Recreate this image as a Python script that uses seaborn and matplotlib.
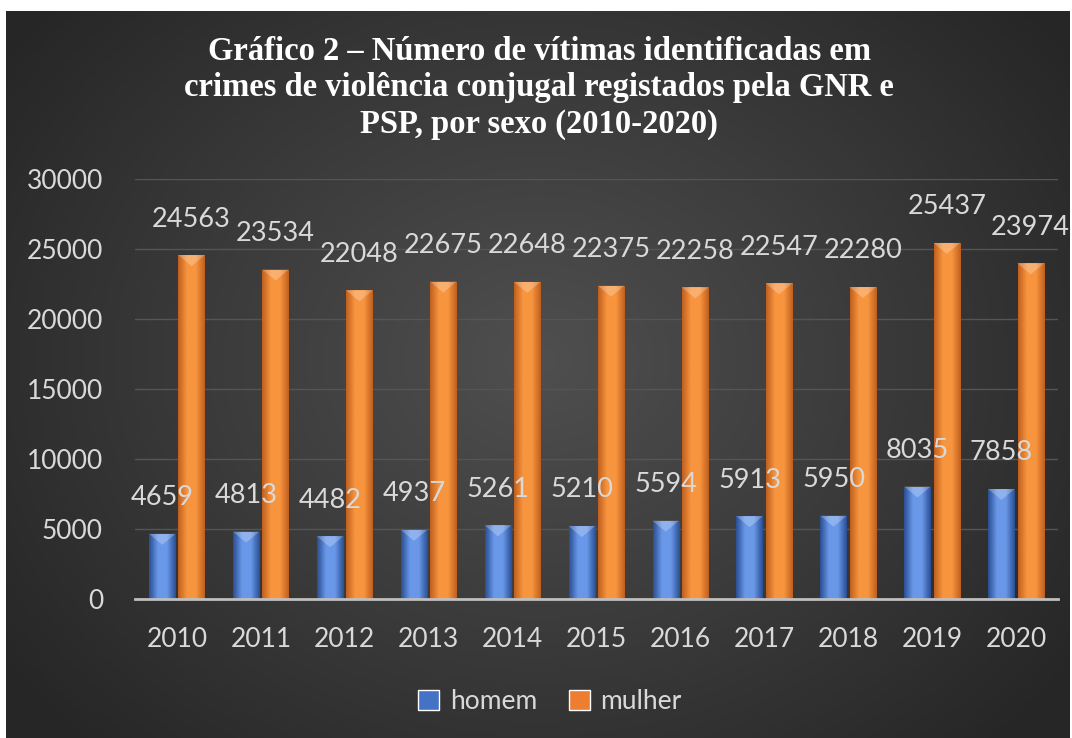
import numpy as np
import pandas as pd
import matplotlib.pyplot as plt
import matplotlib.colors as mcolors
from matplotlib.patches import Polygon
import seaborn as sns

# Dados
anos = ['2010', '2011', '2012', '2013', '2014', '2015', '2016', '2017', '2018', '2019', '2020']
homem = [4659, 4813, 4482, 4937, 5261, 5210, 5594, 5913, 5950, 8035, 7858]
mulher = [24563, 23534, 22048, 22675, 22648, 22375, 22258, 22547, 22280, 25437, 23974]
sexos = ['homem', 'mulher']
titulo = ('Gráfico 2 – Número de vítimas identificadas em\n'
          'crimes de violência conjugal registados pela GNR e\n'
          'PSP, por sexo (2010-2020)')

df = pd.DataFrame({
    'ano': anos * 2,
    'sexo': ['homem'] * len(anos) + ['mulher'] * len(anos),
    'valor': homem + mulher,
})

sns.set_theme(style="white")
plt.rcParams['font.family'] = ['Lato', 'DejaVu Sans']
txt_color = '#d9d9d9'
cores = {'homem': '#4472c4', 'mulher': '#ed7d31'}
grad = {'homem': ('#2a4f94', '#6a98e8'), 'mulher': ('#c0601e', '#f8953f')}

fig = plt.figure(figsize=(10.72, 7.38), dpi=100, facecolor='white')

# fundo com gradiente radial
bg = fig.add_axes([6 / 1072, 0, 1064 / 1072, 727 / 738], zorder=0)
yy, xx = np.mgrid[0:1:300j, 0:1:400j]
r = np.sqrt(((xx - 0.5) / 0.62) ** 2 + ((yy - 0.52) / 0.75) ** 2)
r = np.clip(r, 0, 1)
cmap_bg = mcolors.LinearSegmentedColormap.from_list('bg', ['#4f4f4f', '#3b3b3b', '#262626'])
bg.imshow(r, cmap=cmap_bg, aspect='auto', extent=[0, 1, 0, 1], origin='lower', vmin=0, vmax=1)
bg.set_axis_off()

ax = fig.add_axes([135 / 1072, 139 / 738, 923 / 1072, 420 / 738], zorder=1)
ax.patch.set_alpha(0)
sns.barplot(data=df, x='ano', y='valor', hue='sexo', hue_order=sexos,
            palette=cores, width=0.7, gap=0.1, ax=ax, saturation=1)

ax.set_ylim(0, 30000)
ax.set_xlim(-0.5, len(anos) - 0.5)
ax.set_yticks(range(0, 30001, 5000))
ax.grid(axis='y', color='#555555', linewidth=1)
ax.set_axisbelow(True)
for s in ['top', 'right', 'left']:
    ax.spines[s].set_visible(False)
ax.spines['bottom'].set_color('#bfbfbf')
ax.spines['bottom'].set_linewidth(2)
ax.set_xlabel('')
ax.set_ylabel('')
ax.tick_params(axis='y', colors=txt_color, labelsize=19, pad=23, length=0)
ax.tick_params(axis='x', colors=txt_color, labelsize=19, pad=20, length=0)

# gradiente nas barras
px = 30000 / 420.0
for cont, sexo in zip(ax.containers, sexos):
    c_edge, c_mid = grad[sexo]
    cm = mcolors.LinearSegmentedColormap.from_list(sexo, [c_edge, c_mid, c_mid, c_edge])
    g = np.linspace(0, 1, 64).reshape(1, -1)
    for bar in cont:
        x0, w, h = bar.get_x(), bar.get_width(), bar.get_height()
        bar.set_edgecolor('none')
        im = ax.imshow(g, cmap=cm, aspect='auto', extent=[x0, x0 + w, 0, h], zorder=2)
        im.set_clip_path(bar)
        tri = Polygon([[x0, h], [x0 + w, h], [x0 + w / 2, h - 11 * px]], closed=True,
                      facecolor='white', alpha=0.25, edgecolor='none', zorder=3)
        ax.add_patch(tri)
    ax.bar_label(cont, labels=[str(int(v)) for v in cont.datavalues], padding=17,
                 color=txt_color, fontsize=19.5)

ax.set_ylim(0, 30000)
ax.set_xlim(-0.5, len(anos) - 0.5)

handles, labels = ax.get_legend_handles_labels()
ax.get_legend().remove()
leg = fig.legend(handles, labels, loc='center', bbox_to_anchor=(0.513, 0.049), ncol=2,
                 frameon=False, fontsize=19, handlelength=0.8, handleheight=0.8,
                 handletextpad=0.4, columnspacing=1.2)
for t in leg.get_texts():
    t.set_color(txt_color)

fig.text(0.503, 0.881, titulo, ha='center', va='center', color='white',
         fontsize=23.5, fontweight='bold', family='Liberation Serif', linespacing=1.22)

fig.savefig('out.png', dpi=100, facecolor='white')
